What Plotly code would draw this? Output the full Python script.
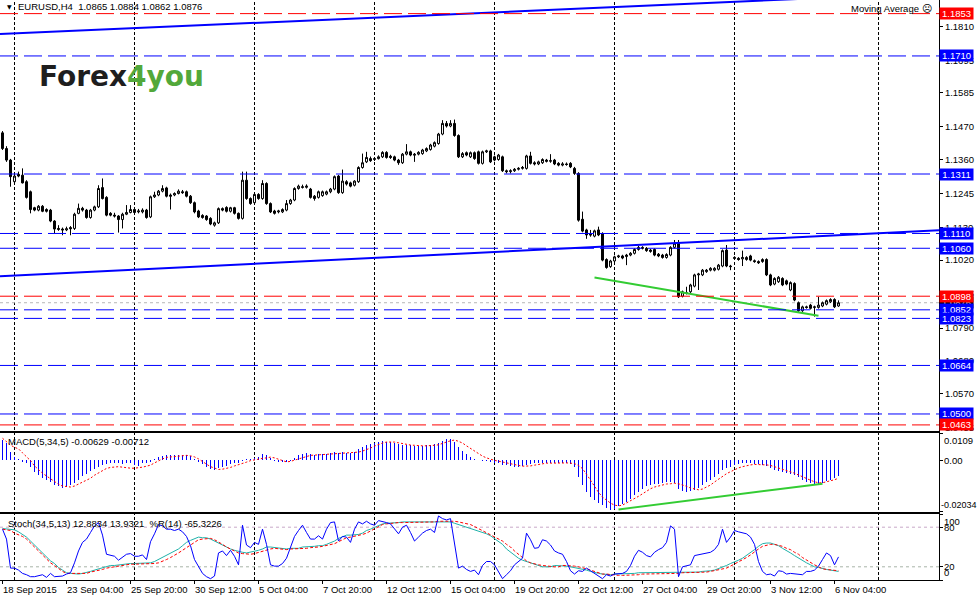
import pandas as pd
import plotly.graph_objects as go

# ------------------------------------------------------------------ data
symbol_title = "EURUSD,H4  1.0865 1.0884 1.0862 1.0876"
first_bar_time = "2015-09-18 12:00"

bar_open = [
    1.1450, 1.1397, 1.1358, 1.1285, 1.1310, 1.1307, 1.1285, 1.1251, 1.1197, 1.1189,
    1.1202, 1.1191, 1.1189, 1.1152, 1.1127, 1.1125, 1.1122, 1.1130, 1.1127, 1.1178,
    1.1195, 1.1189, 1.1164, 1.1189, 1.1200, 1.1265, 1.1232, 1.1178, 1.1172, 1.1169,
    1.1157, 1.1175, 1.1181, 1.1191, 1.1183, 1.1183, 1.1189, 1.1166, 1.1234, 1.1240,
    1.1253, 1.1264, 1.1240, 1.1240, 1.1245, 1.1251, 1.1251, 1.1236, 1.1214, 1.1186,
    1.1171, 1.1169, 1.1161, 1.1138, 1.1146, 1.1194, 1.1198, 1.1185, 1.1197, 1.1178,
    1.1161, 1.1290, 1.1228, 1.1214, 1.1242, 1.1228, 1.1279, 1.1211, 1.1186, 1.1183,
    1.1183, 1.1189, 1.1211, 1.1223, 1.1262, 1.1268, 1.1266, 1.1260, 1.1236, 1.1232,
    1.1238, 1.1243, 1.1251, 1.1260, 1.1304, 1.1248, 1.1285, 1.1281, 1.1273, 1.1285,
    1.1333, 1.1352, 1.1363, 1.1360, 1.1363, 1.1369, 1.1384, 1.1371, 1.1369, 1.1358,
    1.1349, 1.1378, 1.1386, 1.1378, 1.1378, 1.1380, 1.1389, 1.1394, 1.1405, 1.1414,
    1.1446, 1.1482, 1.1473, 1.1482, 1.1441, 1.1369, 1.1383, 1.1369, 1.1383, 1.1386,
    1.1347, 1.1386, 1.1389, 1.1369, 1.1360, 1.1369, 1.1322, 1.1319, 1.1322, 1.1327,
    1.1330, 1.1330, 1.1372, 1.1349, 1.1345, 1.1349, 1.1358, 1.1354, 1.1358, 1.1347,
    1.1341, 1.1345, 1.1347, 1.1330, 1.1313, 1.1158, 1.1122, 1.1108, 1.1101, 1.1122,
    1.1110, 1.1022, 1.0998, 1.1017, 1.1031, 1.1034, 1.1032, 1.1037, 1.1043, 1.1056,
    1.1063, 1.1060, 1.1049, 1.1056, 1.1040, 1.1037, 1.1029, 1.1037, 1.1063, 1.1077,
    1.0898, 1.0910, 1.0913, 1.0932, 1.0970, 1.0970, 1.0981, 1.0986, 1.0986, 1.0989,
    1.1000, 1.1054, 1.1000, 1.1029, 1.1026, 1.1024, 1.1022, 1.1034, 1.1018, 1.1015,
    1.1015, 1.1022, 1.0970, 1.0939, 1.0947, 1.0958, 1.0950, 1.0919, 1.0941, 1.0876,
    1.0849, 1.0862, 1.0868, 1.0860, 1.0860, 1.0865, 1.0871, 1.0879, 1.0887, 1.0865,
]
bar_high = [
    1.1456, 1.1405, 1.1362, 1.1313, 1.1319, 1.1330, 1.1290, 1.1255, 1.1200, 1.1206,
    1.1206, 1.1195, 1.1193, 1.1155, 1.1138, 1.1130, 1.1133, 1.1135, 1.1180, 1.1211,
    1.1200, 1.1193, 1.1193, 1.1204, 1.1273, 1.1296, 1.1236, 1.1182, 1.1180, 1.1172,
    1.1180, 1.1206, 1.1206, 1.1196, 1.1193, 1.1195, 1.1193, 1.1238, 1.1251, 1.1257,
    1.1273, 1.1268, 1.1245, 1.1249, 1.1259, 1.1257, 1.1255, 1.1240, 1.1218, 1.1190,
    1.1175, 1.1172, 1.1165, 1.1150, 1.1198, 1.1198, 1.1202, 1.1200, 1.1200, 1.1181,
    1.1319, 1.1319, 1.1232, 1.1246, 1.1246, 1.1290, 1.1283, 1.1215, 1.1190, 1.1190,
    1.1195, 1.1223, 1.1227, 1.1266, 1.1275, 1.1275, 1.1276, 1.1264, 1.1240, 1.1255,
    1.1255, 1.1255, 1.1264, 1.1306, 1.1308, 1.1326, 1.1290, 1.1285, 1.1290, 1.1337,
    1.1380, 1.1386, 1.1370, 1.1368, 1.1374, 1.1388, 1.1388, 1.1376, 1.1373, 1.1362,
    1.1382, 1.1412, 1.1390, 1.1382, 1.1388, 1.1396, 1.1401, 1.1413, 1.1421, 1.1450,
    1.1493, 1.1490, 1.1493, 1.1495, 1.1445, 1.1385, 1.1387, 1.1387, 1.1387, 1.1390,
    1.1390, 1.1393, 1.1393, 1.1373, 1.1379, 1.1373, 1.1326, 1.1327, 1.1331, 1.1334,
    1.1338, 1.1376, 1.1386, 1.1354, 1.1356, 1.1364, 1.1362, 1.1378, 1.1362, 1.1351,
    1.1351, 1.1350, 1.1351, 1.1335, 1.1317, 1.1184, 1.1126, 1.1122, 1.1123, 1.1133,
    1.1114, 1.1026, 1.1021, 1.1035, 1.1038, 1.1038, 1.1041, 1.1047, 1.1060, 1.1068,
    1.1067, 1.1064, 1.1058, 1.1060, 1.1044, 1.1041, 1.1043, 1.1067, 1.1088, 1.1088,
    1.0917, 1.0930, 1.0940, 1.0974, 1.0977, 1.0990, 1.0990, 1.0996, 1.0996, 1.1007,
    1.1056, 1.1071, 1.1004, 1.1033, 1.1030, 1.1052, 1.1033, 1.1038, 1.1022, 1.1019,
    1.1026, 1.1026, 1.0974, 1.0962, 1.0966, 1.0962, 1.0954, 1.0948, 1.0945, 1.0880,
    1.0866, 1.0866, 1.0872, 1.0866, 1.0896, 1.0880, 1.0887, 1.0891, 1.0891, 1.0884,
]
bar_low = [
    1.1392, 1.1352, 1.1268, 1.1280, 1.1300, 1.1279, 1.1228, 1.1178, 1.1185, 1.1185,
    1.1182, 1.1181, 1.1148, 1.1110, 1.1119, 1.1104, 1.1118, 1.1104, 1.1122, 1.1175,
    1.1184, 1.1160, 1.1160, 1.1185, 1.1196, 1.1225, 1.1168, 1.1168, 1.1164, 1.1113,
    1.1127, 1.1172, 1.1178, 1.1176, 1.1178, 1.1178, 1.1160, 1.1162, 1.1230, 1.1236,
    1.1249, 1.1232, 1.1191, 1.1236, 1.1242, 1.1244, 1.1232, 1.1210, 1.1178, 1.1162,
    1.1160, 1.1153, 1.1138, 1.1133, 1.1142, 1.1185, 1.1181, 1.1181, 1.1174, 1.1157,
    1.1157, 1.1224, 1.1207, 1.1210, 1.1224, 1.1224, 1.1207, 1.1179, 1.1174, 1.1178,
    1.1179, 1.1185, 1.1207, 1.1219, 1.1258, 1.1262, 1.1262, 1.1228, 1.1221, 1.1228,
    1.1234, 1.1239, 1.1246, 1.1256, 1.1244, 1.1244, 1.1272, 1.1266, 1.1269, 1.1281,
    1.1329, 1.1348, 1.1352, 1.1355, 1.1360, 1.1365, 1.1363, 1.1362, 1.1354, 1.1342,
    1.1345, 1.1374, 1.1371, 1.1352, 1.1374, 1.1376, 1.1385, 1.1390, 1.1401, 1.1410,
    1.1442, 1.1468, 1.1469, 1.1437, 1.1365, 1.1365, 1.1371, 1.1365, 1.1359, 1.1343,
    1.1343, 1.1382, 1.1348, 1.1354, 1.1356, 1.1318, 1.1313, 1.1313, 1.1318, 1.1323,
    1.1326, 1.1326, 1.1343, 1.1340, 1.1341, 1.1345, 1.1350, 1.1349, 1.1341, 1.1337,
    1.1337, 1.1339, 1.1331, 1.1308, 1.1150, 1.1114, 1.1092, 1.1099, 1.1097, 1.1101,
    1.1016, 1.0991, 1.0994, 1.1013, 1.1027, 1.1023, 1.1003, 1.1033, 1.1039, 1.1052,
    1.1056, 1.1048, 1.1045, 1.1033, 1.1030, 1.1025, 1.1025, 1.1033, 1.1059, 1.0892,
    1.0894, 1.0904, 1.0909, 1.0928, 1.0919, 1.0966, 1.0977, 1.0982, 1.0982, 1.0985,
    1.0996, 1.0996, 1.0986, 1.1022, 1.1018, 1.1000, 1.1018, 1.1016, 1.1011, 1.1007,
    1.1011, 1.0966, 1.0932, 1.0935, 1.0943, 1.0932, 1.0935, 1.0915, 1.0881, 1.0845,
    1.0845, 1.0856, 1.0853, 1.0829, 1.0856, 1.0861, 1.0867, 1.0875, 1.0858, 1.0862,
]
bar_close = [
    1.1397, 1.1358, 1.1302, 1.1304, 1.1304, 1.1281, 1.1232, 1.1191, 1.1189, 1.1202,
    1.1185, 1.1185, 1.1152, 1.1125, 1.1124, 1.1122, 1.1126, 1.1126, 1.1175, 1.1195,
    1.1189, 1.1164, 1.1189, 1.1200, 1.1262, 1.1228, 1.1172, 1.1172, 1.1169, 1.1157,
    1.1175, 1.1181, 1.1191, 1.1181, 1.1186, 1.1189, 1.1164, 1.1234, 1.1240, 1.1253,
    1.1262, 1.1236, 1.1236, 1.1245, 1.1253, 1.1248, 1.1236, 1.1214, 1.1183, 1.1166,
    1.1164, 1.1157, 1.1142, 1.1146, 1.1194, 1.1189, 1.1185, 1.1197, 1.1178, 1.1161,
    1.1290, 1.1228, 1.1211, 1.1242, 1.1228, 1.1279, 1.1211, 1.1183, 1.1178, 1.1186,
    1.1191, 1.1211, 1.1223, 1.1262, 1.1270, 1.1266, 1.1270, 1.1232, 1.1228, 1.1251,
    1.1251, 1.1251, 1.1260, 1.1302, 1.1248, 1.1287, 1.1277, 1.1270, 1.1287, 1.1333,
    1.1349, 1.1367, 1.1356, 1.1363, 1.1369, 1.1384, 1.1367, 1.1367, 1.1358, 1.1349,
    1.1378, 1.1386, 1.1375, 1.1375, 1.1384, 1.1392, 1.1397, 1.1409, 1.1417, 1.1446,
    1.1482, 1.1473, 1.1482, 1.1441, 1.1369, 1.1380, 1.1375, 1.1383, 1.1363, 1.1347,
    1.1386, 1.1389, 1.1352, 1.1358, 1.1375, 1.1322, 1.1319, 1.1322, 1.1327, 1.1330,
    1.1333, 1.1372, 1.1347, 1.1345, 1.1352, 1.1360, 1.1354, 1.1356, 1.1345, 1.1341,
    1.1345, 1.1343, 1.1335, 1.1313, 1.1155, 1.1118, 1.1105, 1.1105, 1.1119, 1.1105,
    1.1020, 1.0995, 1.1017, 1.1031, 1.1034, 1.1027, 1.1037, 1.1043, 1.1056, 1.1063,
    1.1060, 1.1052, 1.1054, 1.1037, 1.1034, 1.1029, 1.1039, 1.1063, 1.1077, 1.0896,
    1.0913, 1.0908, 1.0936, 1.0970, 1.0973, 1.0986, 1.0986, 1.0992, 1.0992, 1.1003,
    1.1052, 1.1000, 1.0998, 1.1026, 1.1022, 1.1029, 1.1029, 1.1020, 1.1015, 1.1011,
    1.1022, 1.0970, 1.0936, 1.0958, 1.0962, 1.0936, 1.0939, 1.0944, 1.0885, 1.0849,
    1.0862, 1.0860, 1.0857, 1.0862, 1.0868, 1.0876, 1.0883, 1.0887, 1.0862, 1.0876,
]

# MACD(5,34,5) in pips (1e-4)
macd_main_pips = [
    81, 68, 34, 14, 4, -7, -12, -28, -46, -59,
    -69, -77, -86, -97, -103, -109, -106, -99, -90, -79,
    -63, -53, -42, -36, -25, -19, -16, -12, -10, -12,
    -15, -12, -12, -19, -23, -12, -12, -6, 4, 12,
    17, 21, 20, 21, 21, 21, 21, 17, 4, -8,
    -16, -25, -36, -39, -32, -28, -23, -16, -12, -10,
    -1, 4, 6, 10, 14, 24, 21, 8, -3, -6,
    -8, -6, -1, 8, 20, 25, 28, 25, 22, 25,
    25, 25, 28, 33, 30, 33, 30, 30, 34, 44,
    52, 61, 65, 70, 73, 76, 74, 73, 70, 65,
    62, 62, 60, 58, 58, 58, 60, 61, 65, 70,
    78, 84, 86, 74, 54, 38, 25, 14, 6, 1,
    -1, -1, -6, -10, -12, -18, -20, -23, -25, -25,
    -23, -18, -15, -12, -11, -10, -10, -10, -10, -11,
    -11, -12, -15, -25, -66, -99, -126, -146, -159, -170,
    -179, -189, -199, -194, -183, -173, -165, -153, -139, -126,
    -114, -103, -99, -95, -93, -90, -87, -86, -90, -113,
    -122, -126, -122, -117, -109, -99, -86, -77, -66, -53,
    -39, -32, -25, -19, -15, -12, -12, -12, -15, -16,
    -19, -23, -32, -39, -42, -46, -50, -53, -59, -66,
    -77, -86, -90, -93, -93, -90, -82, -77, -69, -63,
]
macd_signal_pips = [
    88, 74, 61, 52, 46, 30, 14, -1, -22, -38,
    -51, -62, -74, -86, -95, -102, -105, -106, -102, -95,
    -87, -79, -71, -59, -49, -39, -32, -28, -27, -25,
    -27, -30, -31, -31, -30, -27, -23, -19, -10, -1,
    6, 12, 14, 17, 18, 20, 20, 18, 14, 6,
    -3, -15, -25, -32, -36, -35, -32, -28, -22, -18,
    -12, -7, -1, 3, 5, 8, 10, 13, 10, 5,
    -3, -6, -4, 1, 6, 13, 17, 20, 21, 22,
    24, 24, 24, 25, 26, 29, 30, 30, 32, 33,
    37, 42, 49, 57, 64, 69, 73, 74, 73, 70,
    66, 64, 61, 60, 58, 58, 58, 58, 60, 62,
    66, 73, 78, 81, 76, 69, 58, 48, 36, 25,
    17, 10, 4, 0, -3, -7, -10, -12, -16, -20,
    -23, -23, -22, -19, -16, -13, -11, -11, -10, -10,
    -10, -10, -11, -13, -20, -33, -55, -79, -106, -127,
    -146, -159, -170, -178, -181, -178, -170, -162, -153, -143,
    -133, -122, -113, -106, -101, -97, -94, -93, -91, -93,
    -97, -103, -110, -115, -117, -114, -107, -98, -86, -74,
    -62, -53, -45, -36, -30, -25, -20, -18, -16, -16,
    -16, -18, -20, -25, -30, -35, -40, -46, -51, -58,
    -66, -73, -79, -85, -89, -89, -86, -82, -77, -71,
]

# Stochastic(34,5,13) main / signal and Williams %R(14) (+100) on the 0..100 scale
stoch_main = [
    78, 77, 77, 76, 73, 69, 65, 59, 53, 46,
    40, 34, 29, 25, 19, 15, 11, 10, 9, 9,
    10, 11, 13, 15, 17, 19, 20, 22, 22, 23,
    24, 24, 25, 25, 25, 25, 26, 26, 28, 31,
    34, 37, 40, 43, 47, 52, 57, 60, 63, 65,
    64, 64, 62, 59, 56, 53, 49, 47, 45, 43,
    42, 41, 42, 43, 45, 47, 50, 50, 49, 48,
    47, 47, 48, 48, 48, 50, 50, 51, 51, 52,
    52, 54, 56, 59, 63, 66, 68, 68, 68, 69,
    71, 75, 77, 80, 83, 85, 86, 86, 87, 87,
    88, 88, 88, 88, 88, 88, 88, 88, 88, 89,
    89, 88, 88, 86, 84, 82, 80, 78, 76, 74,
    73, 70, 67, 63, 59, 54, 47, 42, 37, 33,
    30, 28, 25, 23, 21, 20, 20, 20, 22, 22,
    22, 21, 20, 19, 18, 17, 15, 13, 11, 10,
    9, 8, 8, 9, 9, 9, 10, 10, 10, 11,
    11, 11, 11, 11, 12, 12, 12, 12, 12, 12,
    12, 12, 12, 12, 12, 13, 13, 14, 15, 17,
    19, 22, 25, 27, 30, 33, 37, 41, 46, 51,
    55, 56, 56, 54, 52, 48, 45, 41, 37, 33,
    29, 26, 23, 20, 19, 17, 16, 15, 14, 13,
]
stoch_signal = [
    77, 76, 75, 71, 69, 66, 62, 56, 49, 43,
    37, 31, 26, 22, 17, 13, 10, 10, 9, 9,
    10, 10, 12, 13, 15, 16, 18, 19, 21, 22,
    23, 24, 24, 24, 24, 24, 24, 24, 25, 26,
    28, 31, 34, 37, 41, 45, 49, 54, 58, 61,
    62, 63, 63, 61, 58, 54, 50, 47, 44, 41,
    40, 39, 39, 40, 42, 44, 46, 47, 48, 47,
    47, 46, 47, 47, 48, 48, 48, 49, 49, 50,
    51, 52, 53, 55, 58, 61, 64, 65, 66, 67,
    69, 71, 74, 77, 81, 84, 85, 86, 86, 87,
    87, 87, 87, 87, 87, 87, 87, 87, 88, 89,
    89, 90, 90, 89, 88, 87, 85, 84, 81, 78,
    75, 72, 69, 66, 63, 59, 54, 50, 44, 39,
    33, 29, 26, 24, 23, 22, 21, 20, 20, 20,
    22, 22, 22, 21, 20, 19, 17, 15, 13, 11,
    9, 9, 8, 7, 7, 7, 7, 7, 8, 8,
    9, 9, 9, 10, 10, 10, 10, 10, 10, 10,
    11, 11, 11, 11, 11, 11, 12, 13, 14, 15,
    16, 18, 21, 24, 27, 30, 34, 38, 43, 47,
    51, 53, 54, 54, 53, 51, 48, 46, 42, 39,
    34, 30, 26, 23, 20, 17, 16, 15, 15, 14,
]
williams_r_shifted = [
    77, 62, 18, 18, 15, 10, 8, 5, 5, 6,
    8, 4, 10, 5, 5, 6, 9, 11, 26, 44,
    57, 62, 72, 82, 87, 68, 39, 37, 36, 30,
    35, 39, 40, 36, 36, 38, 31, 58, 70, 84,
    82, 77, 77, 75, 77, 73, 66, 52, 31, 20,
    10, 5, 2, 6, 41, 44, 37, 45, 36, 23,
    83, 53, 49, 57, 54, 77, 54, 23, 21, 21,
    25, 33, 49, 66, 75, 83, 72, 62, 62, 67,
    62, 77, 87, 88, 59, 66, 65, 57, 77, 88,
    85, 89, 85, 83, 90, 89, 87, 85, 77, 70,
    80, 83, 72, 59, 65, 71, 75, 77, 72, 97,
    93, 91, 93, 52, 18, 21, 16, 13, 15, 8,
    22, 28, 28, 23, 13, 2, 8, 14, 23, 28,
    33, 71, 61, 48, 49, 61, 59, 53, 44, 41,
    39, 28, 14, 9, 14, 13, 18, 14, 10, 5,
    2, 8, 6, 9, 9, 10, 13, 22, 36, 45,
    42, 37, 35, 42, 46, 49, 57, 82, 77, 5,
    20, 21, 23, 37, 38, 39, 40, 42, 46, 54,
    77, 57, 65, 75, 73, 72, 70, 65, 54, 28,
    13, 8, 9, 6, 14, 13, 9, 10, 9, 9,
    8, 13, 13, 15, 21, 31, 41, 37, 23, 35,
]

# time axis labels
label_times = ["2015-09-18 12:00", "2015-09-23 04:00", "2015-09-25 20:00", "2015-09-30 12:00",
               "2015-10-05 04:00", "2015-10-07 20:00", "2015-10-12 12:00", "2015-10-15 04:00",
               "2015-10-19 20:00", "2015-10-22 12:00", "2015-10-27 04:00", "2015-10-29 20:00",
               "2015-11-03 12:00", "2015-11-06 04:00"]
label_text = ["18 Sep 2015", "23 Sep 04:00", "25 Sep 20:00", "30 Sep 12:00", "5 Oct 04:00",
              "7 Oct 20:00", "12 Oct 12:00", "15 Oct 04:00", "19 Oct 20:00", "22 Oct 12:00",
              "27 Oct 04:00", "29 Oct 20:00", "3 Nov 12:00", "6 Nov 04:00"]
grid_times = ["2015-09-21 00:00", "2015-09-28 00:00", "2015-10-05 00:00", "2015-10-12 00:00",
              "2015-10-19 00:00", "2015-10-26 00:00", "2015-11-02 00:00", "2015-11-10 00:00"]

price_ticks = [1.1810, 1.1695, 1.1585, 1.1470, 1.1360, 1.1245, 1.1130, 1.1020,
               1.0905, 1.0790, 1.0680, 1.0570, 1.0455]

# horizontal levels drawn on the chart
level_prices = [1.1853, 1.1710, 1.1311, 1.1110, 1.1060, 1.0898, 1.0852, 1.0823, 1.0664, 1.0500, 1.0463]
level_colors = ["#FF0000", "#0000FF", "#0000FF", "#0000FF", "#0000FF", "#FF0000",
                "#0000FF", "#0000FF", "#0000FF", "#0000FF", "#FF0000"]
bid_price = 1.0876

# trend lines: two anchor points (time, value)
upper_channel_times = ["2015-09-21 00:00", "2015-11-02 00:00"]
upper_channel_prices = [1.1786, 1.1893]
lower_channel_times = ["2015-09-21 00:00", "2015-11-02 00:00"]
lower_channel_prices = [1.0968, 1.1087]
green_price_times = ["2015-10-23 04:00", "2015-11-05 12:00"]
green_price_values = [1.0961, 1.0832]
green_macd_times = ["2015-10-26 04:00", "2015-11-05 16:00"]
green_macd_values = [-0.0195, -0.0093]

macd_range = [-0.02034, 0.0109]

# ------------------------------------------------------------------ helpers
slots = pd.date_range(first_bar_time, periods=600, freq="4h")
slots = [t for t in slots if t.dayofweek < 5][:260]
pos = {t.strftime("%Y-%m-%d %H:%M"): i for i, t in enumerate(slots)}
n = len(bar_close)
idx = list(range(n))

W, H = 977, 596
ML, MR, MT, MB = 0, 38, 0, 16
PW, PH = W - ML - MR, H - MT - MB
XR = [-0.625, (PW - 2.5) / 4.0]


def py(ypix):
    return (PH - ypix) / PH


def px(xpix):
    return xpix / PW


def ray(times, vals, xa, xb):
    x0, x1 = pos[times[0]], pos[times[1]]
    s = (vals[1] - vals[0]) / (x1 - x0)
    return [xa, xb], [vals[0] + s * (xa - x0), vals[0] + s * (xb - x0)]


FONT = "Liberation Sans"
FS = 9.5

fig = go.Figure()

# candles
fig.add_trace(go.Candlestick(
    x=idx, open=bar_open, high=bar_high, low=bar_low, close=bar_close,
    increasing=dict(line=dict(color="black", width=1), fillcolor="white"),
    decreasing=dict(line=dict(color="black", width=1), fillcolor="black"),
    whiskerwidth=0, hoverinfo="skip", xaxis="x", yaxis="y"))

for t, v in [(upper_channel_times, upper_channel_prices), (lower_channel_times, lower_channel_prices)]:
    xs, ys = ray(t, v, XR[0], XR[1])
    fig.add_trace(go.Scatter(x=xs, y=ys, mode="lines", line=dict(color="#0000FF", width=2),
                             hoverinfo="skip", xaxis="x", yaxis="y"))

gx = [pos[t] for t in green_price_times]
fig.add_trace(go.Scatter(x=gx, y=green_price_values, mode="lines",
                         line=dict(color="#33CC33", width=2), hoverinfo="skip", xaxis="x", yaxis="y"))

# MACD
fig.add_trace(go.Bar(x=idx, y=[v * 1e-4 for v in macd_main_pips], width=0.3,
                     marker=dict(color="#0000FF", line=dict(width=0)), hoverinfo="skip",
                     xaxis="x2", yaxis="y2"))
fig.add_trace(go.Scatter(x=idx, y=[v * 1e-4 for v in macd_signal_pips], mode="lines",
                         line=dict(color="#FF0000", width=1, dash="2px,2px"), hoverinfo="skip",
                         xaxis="x2", yaxis="y2"))
mx = [pos[t] for t in green_macd_times]
fig.add_trace(go.Scatter(x=mx, y=green_macd_values, mode="lines",
                         line=dict(color="#33CC33", width=2), hoverinfo="skip", xaxis="x2", yaxis="y2"))

# Stochastic
fig.add_trace(go.Scatter(x=idx, y=stoch_main, mode="lines", line=dict(color="#20B2AA", width=1),
                         hoverinfo="skip", xaxis="x3", yaxis="y3"))
fig.add_trace(go.Scatter(x=idx, y=stoch_signal, mode="lines",
                         line=dict(color="#FF0000", width=1, dash="3px,2px"),
                         hoverinfo="skip", xaxis="x3", yaxis="y3"))
fig.add_trace(go.Scatter(x=idx, y=williams_r_shifted, mode="lines", line=dict(color="#0000FF", width=1),
                         hoverinfo="skip", xaxis="x3", yaxis="y3"))

shapes = []
for t in grid_times:
    shapes.append(dict(type="line", xref="x", yref="paper", x0=pos[t], x1=pos[t], y0=0, y1=1,
                       line=dict(color="black", width=1, dash="3px,2px"), layer="below"))
shapes.append(dict(type="line", xref="paper", yref="y", x0=0, x1=1, y0=bid_price, y1=bid_price,
                   line=dict(color="#B8B8B8", width=1, dash="dot"), layer="below"))
for p, c in zip(level_prices, level_colors):
    shapes.append(dict(type="line", xref="paper", yref="y", x0=0, x1=1, y0=p, y1=p,
                       line=dict(color=c, width=1, dash="18px,6px"), layer="above"))
shapes.append(dict(type="line", xref="paper", yref="y3", x0=0, x1=1, y0=80, y1=80,
                   line=dict(color="#C8A8C8", width=1, dash="3px,3px"), layer="below"))
shapes.append(dict(type="line", xref="paper", yref="y3", x0=0, x1=1, y0=20, y1=20,
                   line=dict(color="#A8B4A8", width=1, dash="3px,3px"), layer="below"))

ann = []
ann.append(dict(x=px(5), y=py(7), xref="paper", yref="paper", xanchor="left", yanchor="middle",
                text="▼", font=dict(size=6, color="black", family="DejaVu Sans"), showarrow=False))
ann.append(dict(x=px(16), y=py(7), xref="paper", yref="paper", xanchor="left", yanchor="middle",
                text=symbol_title, font=dict(size=FS, color="black", family=FONT), showarrow=False))
ann.append(dict(x=px(37), y=py(76), xref="paper", yref="paper", xanchor="left", yanchor="middle",
                text="<b>Forex<span style='color:#52A83A'>4you</span></b>",
                font=dict(size=28, color="#1E1E1E", family="DejaVu Sans"), showarrow=False))
ann.append(dict(x=px(849), y=py(9), xref="paper", yref="paper", xanchor="left", yanchor="middle",
                text="Moving Average ☹", font=dict(size=FS, color="black", family=FONT), showarrow=False))
ann.append(dict(x=px(6), y=py(441), xref="paper", yref="paper", xanchor="left", yanchor="middle",
                text="MACD(5,34,5) -0.00629 -0.00712", font=dict(size=FS, color="black", family=FONT),
                showarrow=False))
ann.append(dict(x=px(6), y=py(523), xref="paper", yref="paper", xanchor="left", yanchor="middle",
                text="Stoch(34,5,13) 12.8834 13.9321  %R(14) -65.3226",
                font=dict(size=FS, color="black", family=FONT), showarrow=False))

# price boxes on the right scale (bid box first so the others overlap it)
box_list = [(bid_price, "#000000")] + list(zip(level_prices, level_colors))
for p, c in box_list:
    ann.append(dict(x=1, y=p, xref="paper", yref="y", xanchor="left", yanchor="middle",
                    text=f"{p:.4f}", font=dict(size=FS, color="white", family=FONT),
                    bgcolor=c, width=31, height=9, borderpad=1, showarrow=False, align="center"))

# MACD / Stoch scale labels
for v, txt, anc, sh, fs in [(macd_range[1], "0.0109", "top", 3, FS), (0.0, "0.00", "middle", 3, FS),
                            (macd_range[0], "-0.02034", "bottom", 0, 9)]:
    ann.append(dict(x=1, y=v, xref="paper", yref="y2", xanchor="left", yanchor=anc, xshift=sh,
                    text=txt, font=dict(size=fs, color="black", family=FONT), showarrow=False))
for v, txt, anc in [(100, "100", "top"), (80, "80", "middle"), (20, "20", "middle"), (0, "0", "bottom")]:
    ann.append(dict(x=1, y=v, xref="paper", yref="y3", xanchor="left", yanchor=anc, xshift=3,
                    text=txt, font=dict(size=FS, color="black", family=FONT), showarrow=False))

# time labels
for t, txt in zip(label_times, label_text):
    ann.append(dict(x=pos[t], y=0, xref="x3", yref="paper", xanchor="left", yanchor="top",
                    xshift=-2, yshift=-2, text=txt, font=dict(size=FS, color="black", family=FONT),
                    showarrow=False))

axis_common = dict(range=XR, showline=True, mirror=True, linecolor="black", linewidth=1,
                   showgrid=False, zeroline=False, showticklabels=False, fixedrange=True)

main_bottom, macd_top, macd_bottom, stoch_top = 431, 433, 511.5, 514

fig.update_layout(
    width=W, height=H,
    margin=dict(l=ML, r=MR, t=MT, b=MB, autoexpand=False),
    paper_bgcolor="white", plot_bgcolor="white",
    showlegend=False, bargap=0,
    font=dict(family=FONT, size=FS, color="black"),
    xaxis=dict(**axis_common, anchor="y", ticks="", rangeslider=dict(visible=False)),
    xaxis2=dict(**axis_common, anchor="y2", ticks=""),
    xaxis3=dict(**axis_common, anchor="y3", ticks="outside", ticklen=3, tickcolor="black",
                tickvals=[pos[t] for t in label_times]),
    yaxis=dict(domain=[py(main_bottom), 1], range=[1.1311 - 257 / 2959, 1.1311 + 174 / 2959],
               side="right", anchor="x", tickvals=price_ticks, ticktext=[f"{v:.4f}" for v in price_ticks],
               ticks="outside", ticklen=3, tickcolor="black", showline=True, mirror=True,
               linecolor="black", linewidth=1, showgrid=False, zeroline=False, automargin=False,
               tickfont=dict(size=FS, family=FONT, color="black"), fixedrange=True),
    yaxis2=dict(domain=[py(macd_bottom), py(macd_top)], range=macd_range, side="right", anchor="x2",
                tickvals=[macd_range[1], 0, macd_range[0]], showticklabels=False, ticks="outside",
                ticklen=3, tickcolor="black", showline=True, mirror=True, linecolor="black",
                linewidth=1, showgrid=False, zeroline=False, fixedrange=True),
    yaxis3=dict(domain=[0, py(stoch_top)], range=[0, 100], side="right", anchor="x3",
                tickvals=[0, 20, 80, 100], showticklabels=False, ticks="outside", ticklen=3,
                tickcolor="black", showline=True, mirror=True, linecolor="black", linewidth=1,
                showgrid=False, zeroline=False, fixedrange=True),
    shapes=shapes,
    annotations=ann,
)

fig.write_html("out.html", include_plotlyjs=True, config={"displayModeBar": False, "staticPlot": True})

# remove the browser's default page margin so the figure sits at the window origin
with open("out.html", "r", encoding="utf-8") as fh:
    page = fh.read()
page = page.replace("<head>", "<head><style>html,body{margin:0;padding:0;overflow:hidden;}</style>", 1)
with open("out.html", "w", encoding="utf-8") as fh:
    fh.write(page)
